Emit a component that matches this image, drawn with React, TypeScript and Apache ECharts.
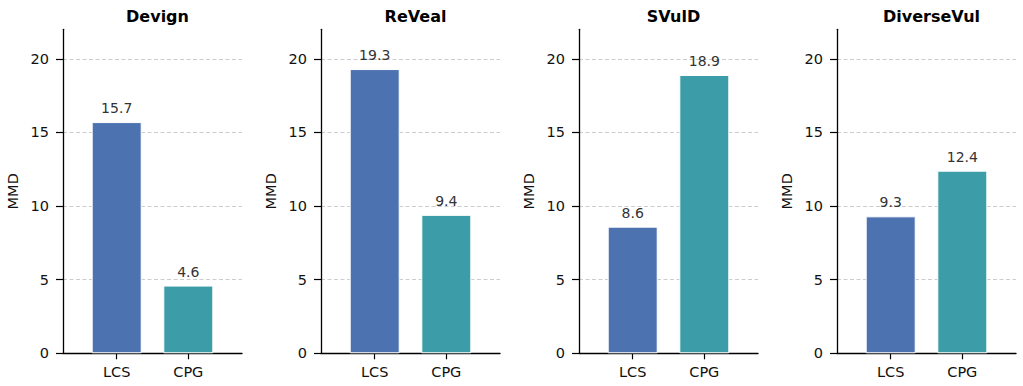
import React, { useEffect, useRef } from "react";
import * as echarts from "echarts";

// Benchmark datasets (one panel each) and the two compared methods
const datasets = ["Devign", "ReVeal", "SVulD", "DiverseVul"];
const methods = ["LCS", "CPG"];
const lcsValues = [15.7, 19.3, 8.6, 9.3];
const cpgValues = [4.6, 9.4, 18.9, 12.4];
const yTicks = [0, 5, 10, 15, 20];
const yMax = 22;
const methodColors = ["#4C72B0", "#3C9DA9"];

const FONT = "DejaVu Sans";

export default function App() {
  const ref = useRef<HTMLDivElement>(null);

  useEffect(() => {
    if (!ref.current) return;
    const chart = echarts.init(ref.current, undefined, { renderer: "svg" });

    const panelLeft = 63;
    const panelStep = 258;
    const panelWidth = 179;
    const panelTop = 29.3;
    const panelHeight = 324;
    const methodPositions = methods.map((_, i) => i);

    const grids: any[] = [];
    const xAxes: any[] = [];
    const yAxes: any[] = [];
    const series: any[] = [];
    const titles: any[] = [];

    datasets.forEach((name, i) => {
      const left = panelLeft + panelStep * i;
      grids.push({ left, top: panelTop, width: panelWidth, height: panelHeight });
      titles.push({
        text: name,
        left: left + panelWidth / 2,
        top: 3,
        textAlign: "center",
        textStyle: { fontFamily: FONT, fontSize: 16, fontWeight: "bold", color: "#000" },
      });
      xAxes.push({
        type: "value",
        gridIndex: i,
        min: -0.75,
        max: 1.75,
        axisLine: { onZero: false, lineStyle: { color: "#000", width: 1.3 } },
        axisTick: { show: true, length: 6, customValues: methodPositions, lineStyle: { color: "#000", width: 1.2 } },
        axisLabel: {
          customValues: methodPositions,
          formatter: (v: number) => methods[Math.round(v)] ?? "",
          margin: 11,
          fontFamily: FONT,
          fontSize: 14.5,
          color: "#111",
        },
        splitLine: { show: false },
      });
      yAxes.push({
        type: "value",
        gridIndex: i,
        min: 0,
        max: yMax,
        name: "MMD",
        nameLocation: "middle",
        nameGap: 43,
        nameTextStyle: { fontFamily: FONT, fontSize: 14.5, color: "#111" },
        axisLine: { show: true, onZero: false, lineStyle: { color: "#000", width: 1.3 } },
        axisTick: { show: true, length: 7, customValues: yTicks, lineStyle: { color: "#000", width: 1.2 } },
        axisLabel: {
          customValues: yTicks,
          margin: 14,
          fontFamily: FONT,
          fontSize: 14.5,
          color: "#111",
        },
        splitLine: { show: true, lineStyle: { color: "#cccccc", width: 1, type: [4, 2.5] } },
      });
      const values = [lcsValues[i], cpgValues[i]];
      series.push({
        type: "bar",
        xAxisIndex: i,
        yAxisIndex: i,
        barWidth: 50,
        data: values.map((v, j) => ({
          value: [j, v],
          itemStyle: { color: methodColors[j], borderColor: "#ffffff", borderWidth: 1 },
        })),
        label: {
          show: true,
          position: "top",
          distance: 7,
          fontFamily: FONT,
          fontSize: 14,
          color: "#333",
          formatter: (p: any) => Number(p.value[1]).toFixed(1),
        },
      });
    });

    chart.setOption({
      animation: false,
      backgroundColor: "#ffffff",
      title: titles,
      grid: grids,
      xAxis: xAxes,
      yAxis: yAxes,
      series,
    });

    return () => chart.dispose();
  }, []);

  return (
    <div
      ref={ref}
      style={{ position: "fixed", left: 0, top: 0, width: 1023, height: 386 }}
    />
  );
}
